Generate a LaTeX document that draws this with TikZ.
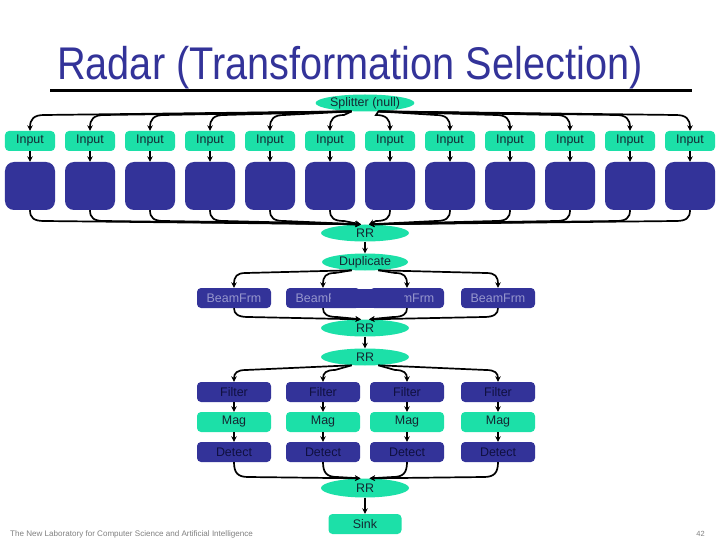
\documentclass[tikz,border=0pt]{standalone}
\usepackage{fontspec}
\usepackage{graphicx}
\setmainfont{Liberation Sans}
\usetikzlibrary{arrows.meta,shapes.geometric}
\definecolor{mint}{RGB}{28,224,168}
\definecolor{navy}{RGB}{51,51,153}
\definecolor{gtxt}{RGB}{20,40,50}
\definecolor{btxt}{RGB}{16,16,64}
\definecolor{bftxt}{RGB}{150,150,205}
\definecolor{foot}{RGB}{128,128,128}
\begin{document}
\begin{tikzpicture}[x=1bp,y=-1bp,
 lab/.style={font=\fontsize{12.5}{14}\selectfont},
 conn/.style={line width=1.7bp, draw=black},
 arr/.style={conn, -{Stealth[length=5.5bp,width=5.5bp]}},
 gbox/.style={lab, fill=mint, rounded corners=4bp, minimum width=50bp, minimum height=20bp, inner sep=0pt, text=gtxt},
 gwide/.style={gbox, minimum width=74bp},
 dbox/.style={lab, fill=navy, rounded corners=4bp, minimum width=74bp, minimum height=20bp, inner sep=0pt, text=btxt},
 bigbox/.style={fill=navy, rounded corners=9bp, minimum width=50bp, minimum height=48bp, inner sep=0pt},
 oval/.style={lab, ellipse, fill=mint, minimum width=88bp, minimum height=17bp, inner sep=0pt, text=gtxt},
]
\useasboundingbox (0,0) rectangle (720,540);

% title
\node[anchor=base west, inner sep=0pt, text=navy, font=\fontsize{46}{50}\selectfont] (title) at (57,80) {\scalebox{0.866}[1]{Radar (Transformation Selection)}};
\draw[line width=3bp] (50,91) -- (692,91);

% splitter and inputs
\node[oval] (sp) at (365,103) {Splitter (null)};
\node[oval] (rr1) at (365,233) {RR};
\foreach \x [count=\i] in {30,90,150,210,270,330,390,450,510,570,630,690} {
  \node[gbox] (in\i) at (\x,141) {Input};
  \node[bigbox] (bb\i) at (\x,186) {};
  \draw[arr] (in\i.south) -- (bb\i.north);
}
\foreach \x [count=\i] in {30,90,150,210,270,330,390,450,510,570,630,690} {
  \pgfmathsetmacro{\s}{\x<365 ? 1 : -1}
  \pgfmathsetmacro{\ang}{\x<365 ? 212 : 328}
  \pgfmathsetmacro{\bng}{\x<365 ? 115 : 65}
  \draw[arr] (sp.\ang) -- ({\x+\s*14},115) .. controls ({\x+\s*4},115) and (\x,119) .. (in\i.north);
  \draw[arr] (bb\i.south) .. controls (\x,218) and ({\x+\s*4},221) .. ({\x+\s*14},221) -- (rr1.\bng);
}

% duplicate and beam forming
\node[oval, minimum width=86bp] (dup) at (365,262) {Duplicate};
\draw[arr] (rr1.south) -- (dup.north);
\node[oval] (rr2) at (365,328) {RR};
\node[oval] (rr3) at (365,357) {RR};
\draw[arr] (rr2.south) -- (rr3.north);
\node[oval, minimum height=19bp] (rr4) at (365,488) {RR};
\node[gwide, minimum width=73bp] (sink) at (365,524) {Sink};
\draw[arr] (rr4.south) -- (sink.north);

\foreach \x [count=\i] in {234,323,407,498} {
  \node[dbox, text=bftxt] (bf\i) at (\x,298) {BeamFrm};
  \node[dbox] (fi\i) at (\x,392) {Filter};
  \node[gwide] (mg\i) at (\x,422) {Mag};
  \node[dbox] (de\i) at (\x,452) {Detect};
  \draw[arr] (fi\i.south) -- (mg\i.north);
  \draw[arr] (mg\i.south) -- (de\i.north);
}
\fill[navy] (330.6,288.5) rectangle (404,307.5);

\foreach \x [count=\i] in {234,323,407,498} {
  \pgfmathsetmacro{\s}{\x<365 ? 1 : -1}
  \pgfmathsetmacro{\ang}{\x<365 ? 212 : 328}
  \pgfmathsetmacro{\bng}{\x<365 ? 115 : 65}
  \draw[arr] (dup.\ang) -- ({\x+\s*12},273) .. controls ({\x+\s*3},273) and (\x,276) .. (bf\i.north);
  \draw[arr] (bf\i.south) .. controls (\x,314) and ({\x+\s*4},317) .. ({\x+\s*14},317) -- (rr2.\bng);
  \draw[arr] (rr3.\ang) -- ({\x+\s*12},370) .. controls ({\x+\s*3},370) and (\x,373) .. (fi\i.north);
  \draw[arr] (de\i.south) .. controls (\x,473) and ({\x+\s*4},477) .. ({\x+\s*14},477) -- (rr4.\bng);
}

% footer
\node[anchor=base west, inner sep=0pt, text=foot, font=\fontsize{8.1}{9}\selectfont] (ft) at (10,536) {The New Laboratory for Computer Science and Artificial Intelligence};
\node[anchor=base east, inner sep=0pt, text=foot, font=\fontsize{7.5}{9}\selectfont] (pg) at (705,536) {42};
\end{tikzpicture}
\end{document}
